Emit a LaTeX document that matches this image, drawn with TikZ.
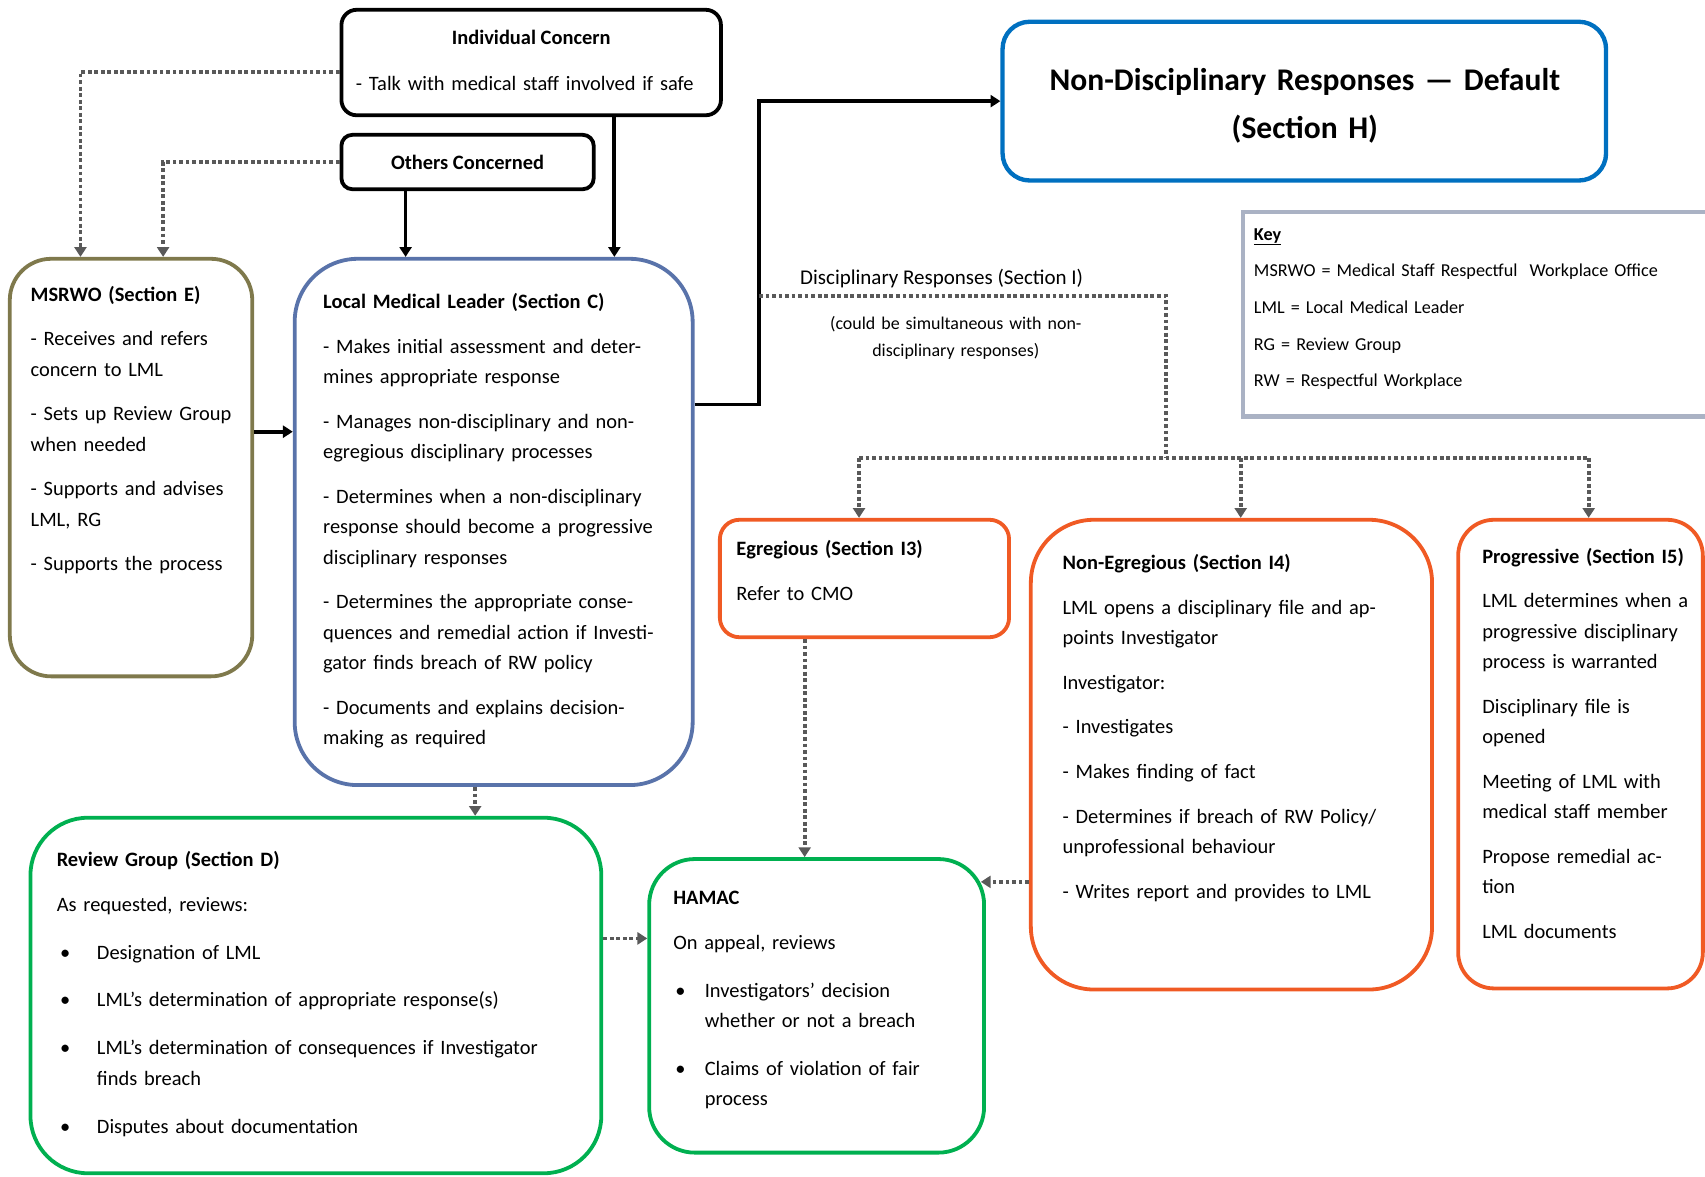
\documentclass[tikz,border=0pt]{standalone}
\usepackage{fontspec}
\setmainfont{Carlito}
\usetikzlibrary{arrows.meta}
\definecolor{blacki}{RGB}{0,0,0}
\definecolor{bluei}{RGB}{0,112,192}
\definecolor{blueii}{RGB}{89,115,170}
\definecolor{olivei}{RGB}{127,121,76}
\definecolor{orangei}{RGB}{240,90,36}
\definecolor{greeni}{RGB}{0,176,80}
\definecolor{grayi}{RGB}{170,178,196}
\definecolor{grayii}{RGB}{89,89,89}
\newcommand{\mybody}{\fontsize{18.8pt}{28pt}\selectfont}
\newcommand{\mylabel}{\fontsize{19.3pt}{28pt}\selectfont}
\newcommand{\mysmall}{\fontsize{16.5pt}{25pt}\selectfont}
\newcommand{\mykey}{\fontsize{16.7pt}{33.7pt}\selectfont}
\newcommand{\mybig}{\fontsize{29pt}{44pt}\selectfont\bfseries}
\tikzset{
      myframe/.style 2 args={
        draw=#1,
        line width=3.5pt,
        rounded corners=#2,
        inner sep=0pt
      },
      mytext/.style={
        anchor=base west,
        inner sep=0pt,
        align=left,
        text width=#1,
        font=\mybody
      },
      myline/.style={
        draw=blacki,
        line width=3.5pt
      },
      mydots/.style={
        draw=grayii,
        line width=3.5pt,
        dash pattern=on 3.5pt off 2.5pt
      },
    }
\begin{document}
\begin{tikzpicture}[x=1pt,y=-1pt,>={Triangle[length=9pt,width=11pt]}]
          \useasboundingbox (0,0) rectangle (1568,1082);

          % boxes
          \node[myframe={blacki}{14pt},minimum width=349pt,minimum height=97pt]
            (indiv) at (488.5,57.5) {};
          \node[myframe={blacki}{10pt},minimum width=232pt,minimum height=50pt]
            (others) at (430,149) {};
          \node[myframe={bluei}{25pt},line width=4pt,minimum width=555pt,minimum height=146pt]
            (nondisc) at (1199.5,93) {};
          \node[myframe={grayi}{0pt},line width=4pt,minimum width=457pt,minimum height=188pt]
            (key) at (1371.5,289) {};
          \node[myframe={olivei}{38pt},minimum width=223pt,minimum height=384pt]
            (msrwo) at (120.5,430) {};
          \node[myframe={blueii}{58pt},minimum width=366pt,minimum height=484pt]
            (lml) at (454,480) {};
          \node[myframe={orangei}{18pt},minimum width=266pt,minimum height=108pt]
            (egreg) at (795,532) {};
          \node[myframe={orangei}{58pt},minimum width=369pt,minimum height=432pt]
            (nonegr) at (1132.5,694) {};
          \node[myframe={orangei}{33pt},minimum width=225pt,minimum height=431pt]
            (progr) at (1453.5,693.5) {};
          \node[myframe={greeni}{53pt},minimum width=525pt,minimum height=327pt]
            (review) at (290.5,915.5) {};
          \node[myframe={greeni}{42pt},minimum width=308pt,minimum height=270pt]
            (hamac) at (751,925) {};

          % texts
          \node[anchor=base,inner sep=0pt,font=\mybody\bfseries]
            (indivtitle) at (488.5,41)
            {Individual Concern};
          \node[mytext=340pt]
            (indivtext) at (327,83)
            {- Talk with medical staff involved if safe};
          \node[anchor=base,inner sep=0pt,font=\mybody\bfseries]
            (otherstitle) at (430,156)
            {Others Concerned};
          \node[anchor=base,inner sep=0pt,align=center,text width=540pt,font=\mybig]
            (nondisctitle) at (1200,83)
            {Non-Disciplinary Responses — Default\\(Section H)};
          \node[mytext=440pt,font=\mykey]
            (keytext) at (1153,221)
            {\textbf{\underline{Key}}\\
             MSRWO = Medical Staff Respectful~~Workplace Office\\
             LML = Local Medical Leader\\
             RG = Review Group\\
             RW = Respectful Workplace};
          \node[mytext=260pt]
            (msrwotext) at (28,277)
            {\textbf{MSRWO (Section E)}\\[13pt]
             - Receives and refers\\concern to LML\\[13pt]
             - Sets up Review Group\\when needed\\[13pt]
             - Supports and advises\\LML, RG\\[13pt]
             - Supports the process};
          \node[mytext=380pt]
            (lmltext) at (297,284)
            {\textbf{Local Medical Leader (Section C)}\\[13pt]
             - Makes initial assessment and deter-\\mines appropriate response\\[13pt]
             - Manages non-disciplinary and non-\\egregious disciplinary processes\\[13pt]
             - Determines when a non-disciplinary\\response should become a progressive\\disciplinary responses\\[13pt]
             - Determines the appropriate conse-\\quences and remedial action if Investi-\\gator finds breach of RW policy\\[13pt]
             - Documents and explains decision-\\making as required};
          \node[mytext=260pt]
            (egregtext) at (677,511)
            {\textbf{Egregious (Section I3)}\\[13pt]
             Refer to CMO};
          \node[mytext=360pt]
            (nonegrtext) at (977,524)
            {\textbf{Non-Egregious (Section I4)}\\[13pt]
             LML opens a disciplinary file and ap-\\points Investigator\\[13pt]
             Investigator:\\[13pt]
             - Investigates\\[13pt]
             - Makes finding of fact\\[13pt]
             - Determines if breach of RW Policy/\\unprofessional behaviour\\[13pt]
             - Writes report and provides to LML};
          \node[mytext=260pt]
            (progrtext) at (1363,518)
            {\textbf{Progressive (Section I5)}\\[13pt]
             LML determines when a\\progressive disciplinary\\process is warranted\\[13pt]
             Disciplinary file is\\opened\\[13pt]
             Meeting of LML with\\medical staff member\\[13pt]
             Propose remedial ac-\\tion\\[13pt]
             LML documents};
          \node[mytext=520pt]
            (reviewtext) at (52,797)
            {\textbf{Review Group (Section D)}\\[13pt]
             As requested, reviews:\\[16pt]
             \makebox[37pt][l]{\hspace{3pt}\textbullet}Designation of LML\\[16pt]
             \makebox[37pt][l]{\hspace{3pt}\textbullet}LML’s determination of appropriate response(s)\\[16pt]
             \makebox[37pt][l]{\hspace{3pt}\textbullet}LML’s determination of consequences if Investigator\\
             \hspace*{37pt}finds breach\\[16pt]
             \makebox[37pt][l]{\hspace{3pt}\textbullet}Disputes about documentation};
          \node[mytext=300pt]
            (hamactext) at (619,832)
            {\textbf{HAMAC}\\[13pt]
             On appeal, reviews\\[16pt]
             \makebox[29pt][l]{\hspace{2pt}\textbullet}Investigators’ decision\\
             \hspace*{29pt}whether or not a breach\\[16pt]
             \makebox[29pt][l]{\hspace{2pt}\textbullet}Claims of violation of fair\\
             \hspace*{29pt}process};
          \node[anchor=base,inner sep=0pt,font=\mylabel]
            (disclabel) at (866,262)
            {Disciplinary Responses (Section I)};
          \node[anchor=base,inner sep=0pt,align=center,text width=300pt,font=\mysmall]
            (disccomment) at (879,303)
            {(could be simultaneous with non-\\disciplinary responses)};

          % connector points
          \coordinate (indivleft) at (74,66);
          \coordinate (othersleft) at (150,149);
          \coordinate (othersdrop) at (373,0);
          \coordinate (indivdrop) at (565,0);
          \coordinate (msrwoout) at (0,397);
          \coordinate (lmlout) at (0,372);
          \coordinate (split) at (698,272);
          \coordinate (branch) at (1072,421);
          \coordinate (egregtop) at (790,421);
          \coordinate (nonegrtop) at (1141,421);
          \coordinate (progrtop) at (1461,421);
          \coordinate (lmldrop) at (437,0);
          \coordinate (egregdrop) at (740,0);
          \coordinate (reviewout) at (0,863);
          \coordinate (hamacin) at (902,811);

          % connectors
          \draw [mydots,->] (indiv.west |- indivleft) -| (msrwo.north -| indivleft);
          \draw [mydots,->] (others.west) -| (msrwo.north -| othersleft);
          \draw [myline,->] (others.south -| othersdrop) -- (lml.north -| othersdrop);
          \draw [myline,->] (indiv.south -| indivdrop) -- (lml.north -| indivdrop);
          \draw [myline,->] (msrwo.east |- msrwoout) -- (lml.west |- msrwoout);
          \draw [myline,->] (lml.east |- lmlout) -| (split) |- (nondisc.west);
          \draw [mydots] (split) -| (branch);
          \draw [mydots] (egregtop) -- (progrtop);
          \draw [mydots,->] (egregtop) -- (egreg.north -| egregtop);
          \draw [mydots,->] (nonegrtop) -- (nonegr.north -| nonegrtop);
          \draw [mydots,->] (progrtop) -- (progr.north -| progrtop);
          \draw [mydots,->] (lml.south -| lmldrop) -- (review.north -| lmldrop);
          \draw [mydots,->] (egreg.south -| egregdrop) -- (hamac.north -| egregdrop);
          \draw [mydots,->] (review.east |- reviewout) -- (hamac.west |- reviewout);
          \draw [mydots,->] (nonegr.west |- hamacin) -- (hamacin);
        \end{tikzpicture}
\end{document}
